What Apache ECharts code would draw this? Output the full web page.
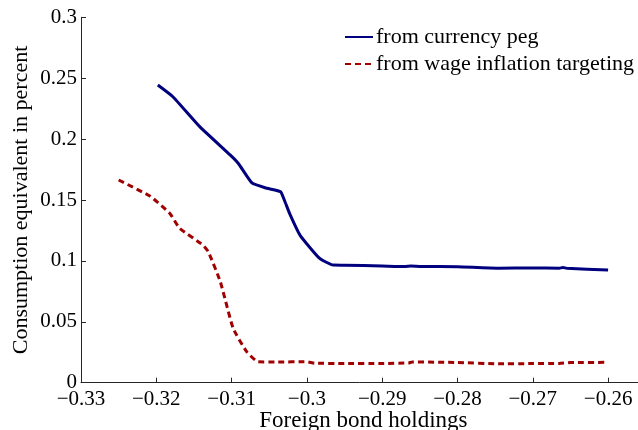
<!DOCTYPE html>
<html>
<head>
<meta charset="utf-8">
<script src="https://cdn.jsdelivr.net/npm/echarts@6/dist/echarts.min.js"></script>
<style>
  html, body { margin: 0; padding: 0; background: #fff; }
  #chart { width: 638px; height: 430px; }
</style>
</head>
<body>
<div id="chart"></div>
<script>
  // values
  const pegX = [-0.3198, -0.3178, -0.3142, -0.3102, -0.3091, -0.3073, -0.3053, -0.3035, -0.3030, -0.3022, -0.3009, -0.2983, -0.2965,
    -0.2950, -0.2900, -0.2870, -0.2862, -0.2850, -0.2800, -0.2746, -0.2700, -0.2665, -0.2660, -0.2655, -0.2600];
  const pegY = [0.2444, 0.2348, 0.2100, 0.1870, 0.1800, 0.1640, 0.1596, 0.1568, 0.1500, 0.1375, 0.1210, 0.1020, 0.0966,
    0.0965, 0.0958, 0.0953, 0.0958, 0.0955, 0.0952, 0.0940, 0.0942, 0.0940, 0.0946, 0.0940, 0.0925];

  const wageX = [-0.3250, -0.3208, -0.3182, -0.3169, -0.3138, -0.3131, -0.3115, -0.3098, -0.3080, -0.3065, -0.3040, -0.3000,
    -0.2990, -0.2950, -0.2900, -0.2865, -0.2860, -0.2800, -0.2746, -0.2700, -0.2665, -0.2650, -0.2600];
  const wageY = [0.1664, 0.1530, 0.1390, 0.1268, 0.1130, 0.1076, 0.0830, 0.0447, 0.0255, 0.0172, 0.0170, 0.0172,
    0.0160, 0.0158, 0.0158, 0.0162, 0.0170, 0.0166, 0.0155, 0.0157, 0.0158, 0.0165, 0.0167];

  const seriesNames = ['from currency peg', 'from wage inflation targeting'];
  const xTicks = [-0.33, -0.32, -0.31, -0.30, -0.29, -0.28, -0.27, -0.26];

  const font = '"Liberation Serif", "Times New Roman", serif';
  const axisColor = '#262626';

  function zip(xs, ys) {
    return xs.map((x, i) => [x, ys[i]]);
  }

  const chart = echarts.init(document.getElementById('chart'), null, { renderer: 'canvas' });
  chart.setOption({
    animation: false,
    backgroundColor: '#fff',
    grid: {
      left: 81,
      top: 17.3,
      right: -7.75,
      bottom: 47.3,
      containLabel: false,
      outerBoundsMode: 'none'
    },
    legend: {
      orient: 'vertical',
      left: 339,
      top: 21,
      itemWidth: 28,
      itemHeight: 2,
      itemGap: 5,
      textStyle: { fontFamily: font, fontSize: 22, color: '#000', lineHeight: 22, padding: [0, 0, 0, -2] },
      data: seriesNames
    },
    xAxis: {
      type: 'value',
      min: -0.33,
      max: -0.255,
      interval: 0.01,
      name: 'Foreign bond holdings',
      nameLocation: 'middle',
      nameGap: 27,
      nameMoveOverlap: false,
      nameTextStyle: { fontFamily: font, fontSize: 23, color: '#000' },
      axisLine: { show: true, onZero: false, lineStyle: { color: axisColor, width: 1 } },
      axisTick: { show: true, inside: true, length: 5, lineStyle: { color: axisColor } },
      splitLine: { show: false },
      axisLabel: {
        margin: 6,
        fontFamily: font,
        fontSize: 21,
        color: '#000',
        showMaxLabel: false,
        formatter: v => {
          const hit = xTicks.find(t => Math.abs(t - v) < 1e-9);
          if (hit === undefined) return '';
          return '\u2212' + Math.abs(hit).toFixed(2).replace(/0+$/, '').replace(/\.$/, '');
        }
      }
    },
    yAxis: {
      type: 'value',
      min: 0,
      max: 0.3,
      interval: 0.05,
      name: 'Consumption equivalent in percent',
      nameLocation: 'middle',
      nameGap: 49,
      nameMoveOverlap: false,
      nameTextStyle: { fontFamily: font, fontSize: 22, color: '#000' },
      axisLine: { show: true, lineStyle: { color: axisColor, width: 1 } },
      axisTick: { show: true, inside: true, length: 5, lineStyle: { color: axisColor } },
      splitLine: { show: false },
      axisLabel: {
        margin: 4,
        fontFamily: font,
        fontSize: 21,
        color: '#000',
        formatter: v => String(parseFloat(v.toFixed(2)))
      }
    },
    series: [
      {
        name: seriesNames[0],
        type: 'line',
        data: zip(pegX, pegY),
        symbol: 'none',
        smooth: 0.15,
        lineStyle: { color: '#00007f', width: 3 },
        itemStyle: { color: '#00007f' }
      },
      {
        name: seriesNames[1],
        type: 'line',
        data: zip(wageX, wageY),
        symbol: 'none',
        smooth: 0.15,
        lineStyle: { color: '#a00000', width: 3, type: [6, 4] },
        itemStyle: { color: '#a00000' }
      }
    ]
  });
</script>
</body>
</html>
